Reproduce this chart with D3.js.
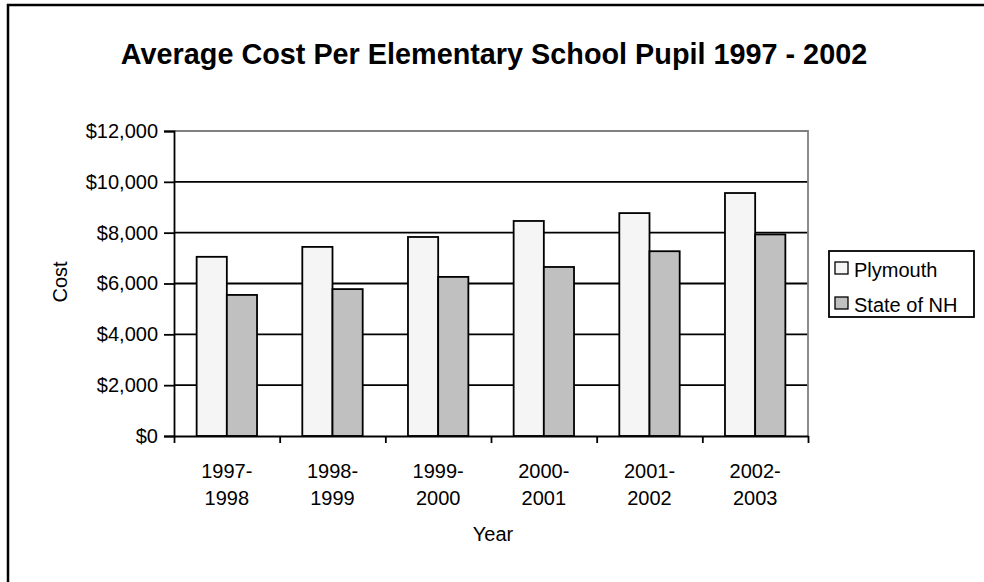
<!DOCTYPE html>
<html>
<head>
<meta charset="utf-8">
<script src="https://cdn.jsdelivr.net/npm/d3@7"></script>
<style>
  html, body { margin: 0; padding: 0; background: #fff; }
  svg { display: block; font-family: Arial, "Liberation Sans", sans-serif; }
</style>
</head>
<body>
<svg id="chart" width="984" height="582"></svg>
<script>
const title = "Average Cost Per Elementary School Pupil 1997 - 2002";
const categories = [["1997-", "1998"], ["1998-", "1999"], ["1999-", "2000"], ["2000-", "2001"], ["2001-", "2002"], ["2002-", "2003"]];
const seriesNames = ["Plymouth", "State of NH"];
const plymouth = [7050, 7440, 7830, 8460, 8770, 9560];
const stateNH = [5550, 5780, 6260, 6650, 7270, 7930];
const yTicks = [0, 2000, 4000, 6000, 8000, 10000, 12000];
const colors = ["#f5f5f5", "#c0c0c0"];

const svg = d3.select("#chart");

// outer frame
svg.append("rect").attr("x", 8).attr("y", 5).attr("width", 1000).attr("height", 620)
  .attr("fill", "#fff").attr("stroke", "#000").attr("stroke-width", 2.5);

const plot = { left: 174, right: 808, top: 131, bottom: 436 };

const x0 = d3.scaleBand().domain(d3.range(categories.length))
  .range([plot.left, plot.right]).paddingInner(0).paddingOuter(0);
const barW = x0.bandwidth() / (2 + 1.5);
const y = d3.scaleLinear().domain([0, 12000]).range([plot.bottom, plot.top]);

// gridlines
svg.append("g").selectAll("line").data(yTicks.filter(d => d > 0 && d < 12000)).join("line")
  .attr("x1", plot.left).attr("x2", plot.right)
  .attr("y1", d => y(d)).attr("y2", d => y(d))
  .attr("stroke", "#000").attr("stroke-width", 1.8);

// plot border top/right gray
svg.append("path")
  .attr("d", `M${plot.left},${y(12000)}H${plot.right}V${plot.bottom}`)
  .attr("fill", "none").attr("stroke", "#808080").attr("stroke-width", 1.8);

// bars
const data = categories.map((c, i) => [plymouth[i], stateNH[i]]);
const groups = svg.append("g").selectAll("g").data(data).join("g")
  .attr("transform", (d, i) => `translate(${x0(i) + x0.bandwidth() / 2 - barW},0)`);
groups.selectAll("rect").data(d => d).join("rect")
  .attr("x", (d, j) => j * barW)
  .attr("y", d => y(d))
  .attr("width", barW)
  .attr("height", d => plot.bottom - y(d))
  .attr("fill", (d, j) => colors[j])
  .attr("stroke", "#000").attr("stroke-width", 1.8);

// y axis
const yAxis = d3.axisLeft(y).tickValues(yTicks).tickFormat(d3.format("$,")).tickSize(10).tickPadding(6);
const gy = svg.append("g").attr("transform", `translate(${plot.left},0)`).call(yAxis);
gy.select(".domain").attr("stroke", "#000").attr("stroke-width", 1.8);
gy.selectAll(".tick line").attr("stroke", "#000").attr("stroke-width", 1.8);
gy.selectAll(".tick text").attr("font-size", 20).attr("fill", "#000")
  .attr("font-family", "Arial, 'Liberation Sans', sans-serif");

// x axis
const xb = d3.scaleLinear().domain([0, categories.length]).range([plot.left, plot.right]);
const xAxis = d3.axisBottom(xb).tickValues(d3.range(categories.length + 1)).tickFormat("").tickSize(7).tickSizeOuter(0);
const gx = svg.append("g").attr("transform", `translate(0,${plot.bottom})`).call(xAxis);
gx.select(".domain").attr("stroke", "#000").attr("stroke-width", 1.8);
gx.selectAll(".tick line").attr("stroke", "#000").attr("stroke-width", 1.8);

// x category labels
const xl = svg.append("g").selectAll("text").data(categories).join("text")
  .attr("x", (d, i) => x0(i) + x0.bandwidth() / 2)
  .attr("y", 478)
  .attr("text-anchor", "middle").attr("font-size", 20).attr("fill", "#000");
xl.selectAll("tspan").data(d => d).join("tspan")
  .attr("x", function () { return d3.select(this.parentNode).attr("x"); })
  .attr("dy", (d, k) => k === 0 ? 0 : 27)
  .text(d => d);

// title
svg.append("text").attr("x", 494).attr("y", 64).attr("text-anchor", "middle")
  .attr("font-size", 28.8).attr("font-weight", "bold").attr("fill", "#000").text(title);

// axis titles
svg.append("text").attr("x", 493).attr("y", 541).attr("text-anchor", "middle")
  .attr("font-size", 20).attr("fill", "#000").text("Year");
svg.append("text").attr("transform", "translate(67,282) rotate(-90)").attr("text-anchor", "middle")
  .attr("font-size", 20).attr("fill", "#000").text("Cost");

// legend
const lg = svg.append("g");
lg.append("rect").attr("x", 829).attr("y", 251).attr("width", 145).attr("height", 66)
  .attr("fill", "#fff").attr("stroke", "#000").attr("stroke-width", 1.8);
const items = lg.selectAll("g.item").data(seriesNames).join("g").attr("class", "item")
  .attr("transform", (d, i) => `translate(835,${262 + i * 35})`);
items.append("rect").attr("width", 13).attr("height", 12)
  .attr("fill", (d, i) => colors[i]).attr("stroke", "#000").attr("stroke-width", 1.3);
items.append("text").attr("x", 19).attr("y", 15).attr("font-size", 20).attr("fill", "#000").text(d => d);
</script>
</body>
</html>
